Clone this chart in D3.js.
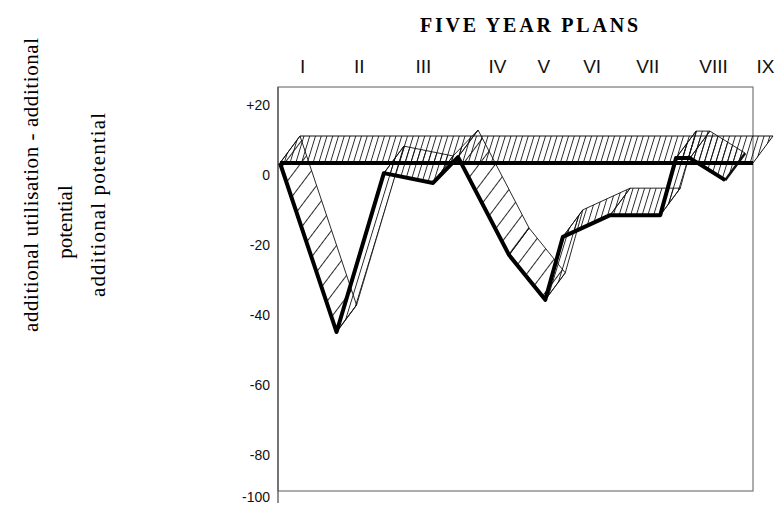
<!DOCTYPE html>
<html><head><meta charset="utf-8">
<script src="https://cdn.jsdelivr.net/npm/d3@7"></script>
<style>body{margin:0;background:#fff}</style>
</head><body>
<svg id="c" width="775" height="510"></svg>
<script>
// ---- data ----
const planLabels = ["I","II","III","IV","V","VI","VII","VIII","IX"];
const planYears = [1953.4,1959.5,1966.4,1974.4,1979.4,1984.6,1990.6,1997.7,2003.3];
const years = [1951,1957.1,1962.2,1967.5,1970.2,1975.7,1979.6,1981.5,1986.6,1992.0,1993.7,1995.2,1999.0];
const gapPct = [0,-48.3,-2.9,-5.7,1.7,-26.3,-39.1,-21.1,-14.9,-14.9,1.4,1.4,-4.9];
const baseYears = [1951,2002];
const baseVal = [0,0];
const yTicks = [20,0,-20,-40,-60,-80,-100];
const yTickLabels = ["+20","0","-20","-40","-60","-80","-100"];
const titleText = "FIVE YEAR PLANS";
const yTitle = ["additional utilisation - additional","potential","additional potential"];

// ---- layout ----
const svg = d3.select("#c");
const x = d3.scaleLinear().domain([1951,2002]).range([280,753]);
const y = d3.scaleLinear().domain([-100,-80,20]).range([485,443,93]);
const depth = [20,-27];

const defs = svg.append("defs");
function hatch(id, w, ang){
  const p = defs.append("pattern").attr("id",id).attr("patternUnits","userSpaceOnUse")
    .attr("width",w).attr("height",20).attr("patternTransform",`rotate(${ang})`);
  p.append("line").attr("x1",0.5).attr("y1",0).attr("x2",0.5).attr("y2",20)
    .attr("stroke","#111").attr("stroke-width",0.9);
}
hatch("hd",5.5,17);
hatch("hs",13,37);

// frame
svg.append("rect").attr("x",278).attr("y",87).attr("width",475).attr("height",404)
  .attr("fill","none").attr("stroke","#777").attr("stroke-width",1.2);
svg.append("line").attr("x1",278).attr("x2",278).attr("y1",87).attr("y2",503)
  .attr("stroke","#555").attr("stroke-width",1.3);

// title
svg.append("text").attr("x",529).attr("y",32).attr("text-anchor","middle")
  .attr("font-family","Liberation Serif, serif").attr("font-weight","bold").attr("font-size",20)
  .attr("textLength",218).attr("lengthAdjust","spacing").text(titleText);

// y title
const yt = [{t:yTitle[0],x:38,cy:185,len:294},{t:yTitle[1],x:72,cy:222,len:null},{t:yTitle[2],x:105,cy:205,len:184}];
yt.forEach(d=>{
  const t = svg.append("text").attr("transform",`translate(${d.x},${d.cy}) rotate(-90)`)
    .attr("text-anchor","middle").attr("font-family","Liberation Serif, serif").attr("font-size",21)
    .text(d.t);
  if(d.len) t.attr("textLength",d.len).attr("lengthAdjust","spacing");
});

// top axis (plans)
const gTop = svg.append("g").attr("transform","translate(0,81)")
  .call(d3.axisTop(x).tickValues(planYears).tickFormat((d,i)=>planLabels[i]).tickSize(0).tickPadding(8));
gTop.select(".domain").remove();
gTop.selectAll("text").attr("font-family","Liberation Sans Narrow, Arial Narrow, sans-serif")
  .attr("font-size",19).attr("fill","#111");

// left axis
const gLeft = svg.append("g").attr("transform","translate(278,0)")
  .call(d3.axisLeft(y).tickValues(yTicks).tickFormat((d,i)=>yTickLabels[i]).tickSize(0).tickPadding(8));
gLeft.select(".domain").remove();
gLeft.selectAll("text").attr("dy","1.2em").attr("font-family","Liberation Sans Narrow, Arial Narrow, sans-serif")
  .attr("font-size",14).attr("fill","#111");

// baseline band (additional potential)
const b0 = [x(baseYears[0]),y(baseVal[0])], b1 = [x(baseYears[1]),y(baseVal[1])];
const quad = (p,q)=>[p,q,[q[0]+depth[0],q[1]+depth[1]],[p[0]+depth[0],p[1]+depth[1]]];
svg.append("path").attr("d",d3.line()(quad(b0,b1))+"Z")
  .attr("fill","url(#hd)").attr("stroke","#111").attr("stroke-width",1);

// ribbon of the series
const pts = years.map((yr,i)=>[x(yr),y(gapPct[i])]);
for(let i=0;i<pts.length-1;i++){
  const p=pts[i], q=pts[i+1];
  const slope=(q[1]-p[1])/(q[0]-p[0]);
  svg.append("path").attr("d",d3.line()(quad(p,q))+"Z")
    .attr("fill", slope>1.1?"url(#hs)":"url(#hd)")
    .attr("stroke","#111").attr("stroke-width",0.9).attr("stroke-linejoin","round");
}
// end cap
const last = pts[pts.length-1];
svg.append("line").attr("x1",last[0]).attr("y1",last[1]).attr("x2",last[0]+depth[0]).attr("y2",last[1]+depth[1])
  .attr("stroke","#111").attr("stroke-width",2.5);

// band front edge
svg.append("line").attr("x1",b0[0]).attr("y1",b0[1]).attr("x2",b1[0]).attr("y2",b1[1])
  .attr("stroke","#000").attr("stroke-width",4);

// series front line
svg.append("path").attr("d",d3.line()(pts)).attr("fill","none")
  .attr("stroke","#000").attr("stroke-width",4).attr("stroke-linejoin","round");
</script>
</body></html>
